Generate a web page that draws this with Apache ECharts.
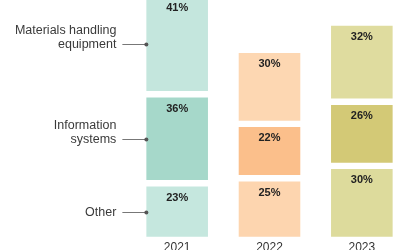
<!DOCTYPE html>
<html>
<head>
<meta charset="utf-8">
<script src="https://cdn.jsdelivr.net/npm/echarts@6/dist/echarts.min.js"></script>
<style>
html,body{margin:0;padding:0;background:#fff;}
#c{width:400px;height:250px;}
</style>
</head>
<body>
<div id="c"></div>
<script>
const years = ['2021', '2022', '2023'];
const other = [23, 25, 30];
const infoSystems = [36, 22, 26];
const materials = [41, 30, 32];
const segmentNames = ['Other', 'Information\nsystems', 'Materials handling\nequipment'];

const otherColors = ['#c5e7de', '#fdd5af', '#dddb9c'];
const infoColors = ['#a6d8ca', '#fbbf8b', '#d3c976'];
const materialsColors = ['#c4e6dd', '#fdd7b2', '#dfdc9f'];

const FONT = '"Liberation Sans", Arial, Helvetica, sans-serif';
const BAR_W = 68;
const GAP = 3.2;

function barData(vals, colors) {
  return vals.map((v, i) => ({ value: v, itemStyle: { color: colors[i] } }));
}

const stacks = [other, infoSystems, materials];
// annotation anchors: midpoints of the 2021 segments
const annot = [];
let cum = 0;
stacks.forEach((s, k) => {
  annot.push([0, cum + s[0] / 2, segmentNames[k]]);
  cum += s[0];
});

const labelCfg = {
  show: true,
  position: 'insideTop',
  distance: 9,
  formatter: '{c}%',
  color: '#222',
  fontWeight: 'bold',
  fontSize: 11,
  fontFamily: FONT
};

function barSeries(name, vals, colors) {
  return {
    name: name,
    type: 'bar',
    stack: 'total',
    barWidth: BAR_W,
    data: barData(vals, colors),
    itemStyle: { borderColor: '#fff', borderWidth: GAP },
    label: labelCfg,
    emphasis: { disabled: true },
    animation: false
  };
}

const chart = echarts.init(document.getElementById('c'), null, { renderer: 'canvas' });
chart.setOption({
  backgroundColor: '#fff',
  animation: false,
  grid: { left: 131, right: -8, top: -7, bottom: 10, containLabel: false, outerBoundsMode: 'none' },
  xAxis: {
    type: 'category',
    data: years,
    axisLine: { show: false },
    axisTick: { show: false },
    axisLabel: { color: '#333', fontSize: 12, fontFamily: FONT, margin: 2, verticalAlign: 'top' }
  },
  yAxis: {
    type: 'value', min: 0, max: 100,
    show: false,
    splitLine: { show: false }
  },
  series: [
    barSeries('Other', other, otherColors),
    barSeries('Information systems', infoSystems, infoColors),
    barSeries('Materials handling equipment', materials, materialsColors),
    {
      type: 'custom',
      data: annot,
      silent: true,
      animation: false,
      clip: false,
      z: 10,
      renderItem: function (params, api) {
        const p = api.coord([api.value(0), api.value(1)]);
        const left = p[0] - BAR_W / 2 + GAP;
        const y = Math.round(p[1]) + 0.5;
        const text = annot[params.dataIndex][2];
        return {
          type: 'group',
          children: [
            { type: 'line', shape: { x1: left - 24, y1: y, x2: left, y2: y }, style: { stroke: '#777', lineWidth: 1 } },
            { type: 'circle', shape: { cx: left, cy: y, r: 2 }, style: { fill: '#555' } },
            { type: 'text', style: {
                x: left - 30, y: y + 7, text: text,
                align: 'right', verticalAlign: 'bottom',
                fill: '#3a3a3a', fontSize: 12.5, lineHeight: 14, fontFamily: FONT
              } }
          ]
        };
      }
    }
  ]
});
</script>
</body>
</html>
